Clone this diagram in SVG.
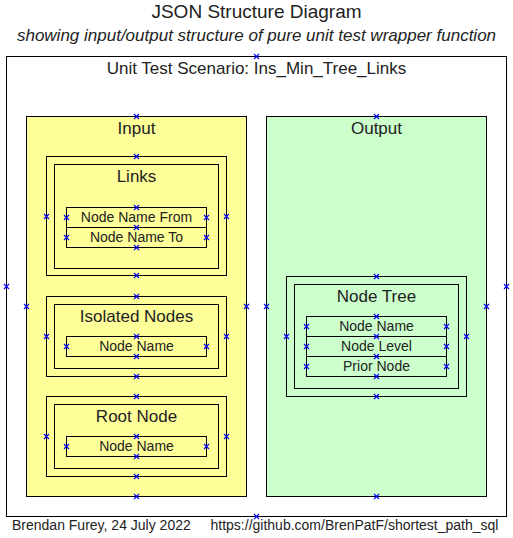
<svg xmlns="http://www.w3.org/2000/svg" xmlns:xlink="http://www.w3.org/1999/xlink" width="513" height="538" viewBox="0 0 513 538">
<style>
text{font-family:"Liberation Sans",Arial,sans-serif;fill:#222}
.t{font-size:19px;text-anchor:middle}
.st{font-size:17px;font-style:italic;text-anchor:middle}
.h{font-size:17px;text-anchor:middle}
.f{font-size:14px;text-anchor:middle}
.ft{font-size:14px}
.b{fill:none;stroke:#000;stroke-width:1}
.frame{fill:#fff;stroke:#000;stroke-width:1}
.in{fill:#ffff99;stroke:#000;stroke-width:1}
.out{fill:#ccffcc;stroke:#000;stroke-width:1}
.xm{fill:none;stroke:#0000ff;stroke-width:1.1}
</style>
<defs>
<path id="x" class="xm" d="M-2.5,-2.5L2.5,2.5M-2.5,2.5L2.5,-2.5"/>
</defs>
<rect width="513" height="538" fill="#fff"/>
<text class="t" x="256.5" y="17.5">JSON Structure Diagram</text>
<text class="st" x="256.5" y="41">showing input/output structure of pure unit test wrapper function</text>

<g id="scenario">
<rect class="frame" x="6.5" y="56.5" width="500" height="460"/>
<text class="h" x="256.5" y="74">Unit Test Scenario: Ins_Min_Tree_Links</text>
</g>

<g id="input">
<rect class="in" x="26.5" y="116.5" width="220" height="380"/>
<text class="h" x="136.5" y="134">Input</text>
</g>

<g id="output">
<rect class="out" x="266.5" y="116.5" width="220" height="380"/>
<text class="h" x="376.5" y="134">Output</text>
</g>

<g id="links">
<rect class="b" x="46.5" y="156.5" width="180" height="119"/>
<rect class="b" x="54.5" y="164.5" width="164" height="104"/>
<text class="h" x="136.5" y="182">Links</text>
<rect class="b" x="66.5" y="207.5" width="140" height="20"/>
<rect class="b" x="66.5" y="227.5" width="140" height="20"/>
<text class="f" x="136.5" y="221.5">Node Name From</text>
<text class="f" x="136.5" y="241.5">Node Name To</text>
</g>

<g id="isolated-nodes">
<rect class="b" x="46.5" y="296.5" width="180" height="80"/>
<rect class="b" x="54.5" y="304.5" width="164" height="64"/>
<text class="h" x="136.5" y="322">Isolated Nodes</text>
<rect class="b" x="66.5" y="336.5" width="140" height="20"/>
<text class="f" x="136.5" y="350.5">Node Name</text>
</g>

<g id="root-node">
<rect class="b" x="46.5" y="396.5" width="180" height="80"/>
<rect class="b" x="54.5" y="404.5" width="164" height="64"/>
<text class="h" x="136.5" y="422">Root Node</text>
<rect class="b" x="66.5" y="436.5" width="140" height="20"/>
<text class="f" x="136.5" y="450.5">Node Name</text>
</g>

<g id="node-tree">
<rect class="b" x="286.5" y="276.5" width="180" height="120"/>
<rect class="b" x="294.5" y="284.5" width="164" height="104"/>
<text class="h" x="376.5" y="302">Node Tree</text>
<rect class="b" x="306.5" y="316.5" width="140" height="20"/>
<rect class="b" x="306.5" y="336.5" width="140" height="20"/>
<rect class="b" x="306.5" y="356.5" width="140" height="20"/>
<text class="f" x="376.5" y="330.5">Node Name</text>
<text class="f" x="376.5" y="350.5">Node Level</text>
<text class="f" x="376.5" y="370.5">Prior Node</text>
</g>

<g id="connectors"></g>

<g id="connection-points">
<use href="#x" x="256.5" y="56.5"/><use href="#x" x="256.5" y="516.5"/><use href="#x" x="6.5" y="286.5"/><use href="#x" x="506.5" y="286.5"/>
<use href="#x" x="136.5" y="116.5"/><use href="#x" x="136.5" y="496.5"/><use href="#x" x="26.5" y="306.5"/><use href="#x" x="246.5" y="306.5"/>
<use href="#x" x="376.5" y="116.5"/><use href="#x" x="376.5" y="496.5"/><use href="#x" x="266.5" y="306.5"/><use href="#x" x="486.5" y="306.5"/>
<use href="#x" x="136.5" y="156.5"/><use href="#x" x="136.5" y="275.5"/><use href="#x" x="46.5" y="216.5"/><use href="#x" x="226.5" y="216.5"/>
<use href="#x" x="136.5" y="207.5"/><use href="#x" x="136.5" y="227.5"/><use href="#x" x="136.5" y="247.5"/>
<use href="#x" x="66.5" y="217.5"/><use href="#x" x="206.5" y="217.5"/><use href="#x" x="66.5" y="237.5"/><use href="#x" x="206.5" y="237.5"/>
<use href="#x" x="136.5" y="296.5"/><use href="#x" x="136.5" y="376.5"/><use href="#x" x="46.5" y="336.5"/><use href="#x" x="226.5" y="336.5"/>
<use href="#x" x="136.5" y="336.5"/><use href="#x" x="136.5" y="356.5"/><use href="#x" x="66.5" y="346.5"/><use href="#x" x="206.5" y="346.5"/>
<use href="#x" x="136.5" y="396.5"/><use href="#x" x="136.5" y="476.5"/><use href="#x" x="46.5" y="436.5"/><use href="#x" x="226.5" y="436.5"/>
<use href="#x" x="136.5" y="436.5"/><use href="#x" x="136.5" y="456.5"/><use href="#x" x="66.5" y="446.5"/><use href="#x" x="206.5" y="446.5"/>
<use href="#x" x="376.5" y="276.5"/><use href="#x" x="376.5" y="396.5"/><use href="#x" x="286.5" y="336.5"/><use href="#x" x="466.5" y="336.5"/>
<use href="#x" x="376.5" y="316.5"/><use href="#x" x="376.5" y="336.5"/><use href="#x" x="376.5" y="356.5"/><use href="#x" x="376.5" y="376.5"/>
<use href="#x" x="306.5" y="326.5"/><use href="#x" x="446.5" y="326.5"/><use href="#x" x="306.5" y="346.5"/><use href="#x" x="446.5" y="346.5"/><use href="#x" x="306.5" y="366.5"/><use href="#x" x="446.5" y="366.5"/>
</g>

<text class="ft" x="12" y="530">Brendan Furey, 24 July 2022</text>
<text class="ft" x="210.5" y="530">https://github.com/BrenPatF/shortest_path_sql</text>
</svg>
